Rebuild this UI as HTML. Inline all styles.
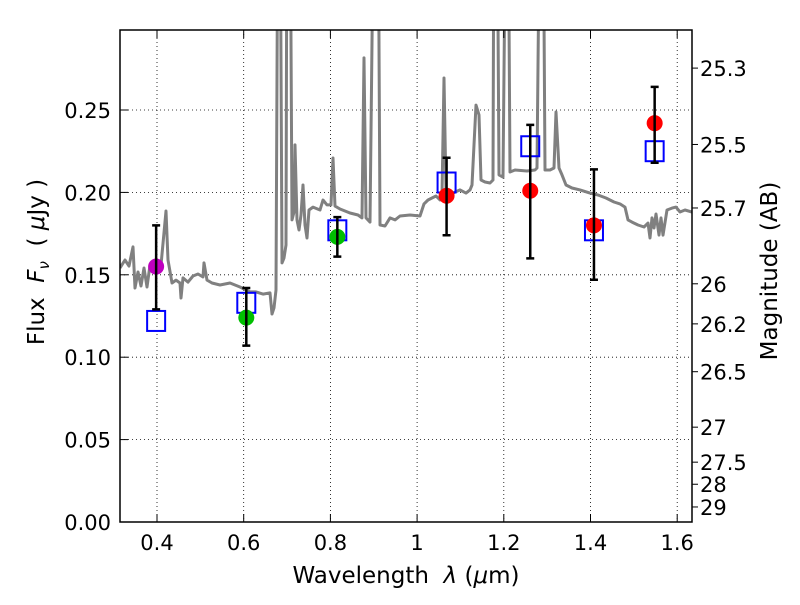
<!DOCTYPE html>
<html><head><meta charset="utf-8"><style>
html,body{margin:0;padding:0;background:#fff;}
svg text{font-family:"DejaVu Sans","Liberation Sans",sans-serif;fill:#000;white-space:pre;}
</style></head><body>
<svg id="chart" width="800" height="600" viewBox="0 0 800 600" xmlns="http://www.w3.org/2000/svg">
<rect width="800" height="600" fill="#fff"/>
<defs><clipPath id="plotclip"><rect x="120" y="30" width="572" height="492"/></clipPath></defs>
<g id="grid"></g>
<g id="spec" clip-path="url(#plotclip)"></g>
<g id="marks"></g>
<rect x="120" y="30" width="572" height="492" fill="none" stroke="#000" stroke-width="1.5"/>
<g id="axes"></g>
<text x="406" y="583" font-size="23" text-anchor="middle" xml:space="preserve">Wavelength  <tspan font-style="italic">λ</tspan> (<tspan font-style="italic">μ</tspan>m)</text>
<text transform="translate(44,262) rotate(-90)" font-size="23" text-anchor="middle" xml:space="preserve">Flux  <tspan font-style="italic">F</tspan><tspan font-style="italic" font-size="15" dy="5">ν</tspan><tspan dy="-5">  ( </tspan><tspan font-style="italic">μ</tspan>Jy )</text>
<text transform="translate(777,271) rotate(-90)" font-size="23" text-anchor="middle">Magnitude (AB)</text>
</svg>
<script>
const specLam=[0.3146,0.3262,0.3354,0.3446,0.3492,0.3562,0.3631,0.3700,0.3769,0.3839,0.3931,0.4,0.4092,0.4208,0.4254,0.4346,0.4438,0.4531,0.4554,0.4600,0.4715,0.4830,0.4946,0.5061,0.5084,0.5153,0.5269,0.5453,0.5684,0.5915,0.6145,0.6284,0.6445,0.6607,0.6653,0.6699,0.6745,0.6791,0.6837,0.6884,0.6930,0.6976,0.6999,0.7068,0.7114,0.7160,0.7183,0.7229,0.7276,0.7322,0.7368,0.7414,0.7460,0.7506,0.7599,0.7760,0.7829,0.7922,0.8014,0.8060,0.8106,0.8221,0.8452,0.8637,0.8729,0.8775,0.8821,0.8913,0.9006,0.9098,0.9144,0.9260,0.9375,0.9490,0.9606,0.9837,1.0067,1.0159,1.0252,1.0344,1.0436,1.0528,1.0574,1.0621,1.0667,1.0759,1.0874,1.0990,1.1128,1.1220,1.1266,1.1359,1.1428,1.1474,1.1566,1.1682,1.1751,1.1774,1.1843,1.1889,1.1982,1.2051,1.2097,1.2143,1.2258,1.2535,1.2720,1.2766,1.2835,1.2905,1.2951,1.3066,1.3159,1.3205,1.3274,1.3343,1.3435,1.3574,1.3758,1.3989,1.4173,1.4358,1.4542,1.4680,1.4796,1.4865,1.4957,1.5095,1.5234,1.5326,1.5372,1.5418,1.5464,1.5511,1.5580,1.5626,1.5672,1.5764,1.5880,1.5972,1.6064,1.6180,1.6341];
const specFlux=[0.1541,0.1590,0.1553,0.1669,0.1420,0.1517,0.1432,0.1541,0.1426,0.1559,0.1517,0.1541,0.1559,0.1887,0.1590,0.1450,0.1468,0.1450,0.1359,0.1481,0.1456,0.1493,0.1505,0.1487,0.1572,0.1468,0.1450,0.1438,0.1450,0.1426,0.1396,0.1396,0.1383,0.1390,0.1262,0.1299,0.1408,0.40,0.40,0.1572,0.1602,0.1681,0.40,0.40,0.1833,0.1881,0.2288,0.1833,0.1772,0.1863,0.2045,0.1802,0.1723,0.1893,0.1911,0.1893,0.1954,0.1924,0.1924,0.2209,0.1917,0.1899,0.1875,0.1863,0.1845,0.2816,0.1845,0.1820,0.40,0.40,0.1802,0.1796,0.1845,0.1833,0.1857,0.1863,0.1857,0.1930,0.1954,0.1966,0.1978,0.1954,0.1984,0.2694,0.2015,0.1984,0.2002,0.2015,0.1996,0.2015,0.2045,0.2530,0.2470,0.2075,0.2063,0.2057,0.2075,0.40,0.40,0.2106,0.2093,0.40,0.40,0.2124,0.2136,0.2130,0.2136,0.2148,0.40,0.40,0.2136,0.2136,0.2148,0.2488,0.2148,0.2106,0.2045,0.2027,0.2015,0.1996,0.1984,0.1966,0.1942,0.1930,0.1911,0.1833,0.1820,0.1802,0.1790,0.1814,0.1723,0.1845,0.1784,0.1869,0.1741,0.1845,0.1741,0.1893,0.1905,0.1911,0.1881,0.1893,0.1881];
const bandLam=[0.398,0.606,0.816,1.068,1.261,1.408,1.548];
const modelFlux=[0.122,0.133,0.177,0.206,0.228,0.177,0.225];
const obsFlux=[0.155,0.124,0.173,0.198,0.201,0.180,0.242];
const errLow=[0.129,0.107,0.161,0.174,0.160,0.147,0.218];
const errHigh=[0.180,0.142,0.185,0.221,0.241,0.214,0.264];
const obsColor=["#bf00bf","#00bf00","#00bf00","#ff0000","#ff0000","#ff0000","#ff0000"];
const xTicks=[0.4,0.6,0.8,1.0,1.2,1.4,1.6];
const xTickLabels=["0.4","0.6","0.8","1","1.2","1.4","1.6"];
const yTicks=[0,0.05,0.10,0.15,0.20,0.25];
const yTickLabels=["0.00","0.05","0.10","0.15","0.20","0.25"];
const magTicks=[25.3,25.5,25.7,26,26.2,26.5,27,27.5,28,29];
const magTickLabels=["25.3","25.5","25.7","26","26.2","26.5","27","27.5","28","29"];

const NS="http://www.w3.org/2000/svg";
const X=l=>157+(l-0.4)*433.5;
const Y=f=>522-f*1648;
function mk(tag,attrs,parent){const e=document.createElementNS(NS,tag);for(const k in attrs)e.setAttribute(k,attrs[k]);parent.appendChild(e);return e;}
const grid=document.getElementById('grid'),axes=document.getElementById('axes'),spec=document.getElementById('spec'),marks=document.getElementById('marks');

xTicks.forEach((t,i)=>{
  const x=X(t);
  const g=mk('line',{x1:x,x2:x,y1:30,y2:522,stroke:'#000','stroke-width':0.8,'stroke-dasharray':'1,3'},grid);
  
  
  const tk=mk('line',{x1:x,x2:x,y1:522,y2:514,stroke:'#000','stroke-width':1},axes);
  
  
  const tk2=mk('line',{x1:x,x2:x,y1:30,y2:38,stroke:'#000','stroke-width':1},axes);
  
  
  const tx=mk('text',{x:x,y:550,'font-size':21,'text-anchor':'middle'},axes);
  tx.textContent=xTickLabels[i];
  
  
});
yTicks.forEach((t,i)=>{
  const y=Y(t);
  if(t>0){
    const g=mk('line',{x1:120,x2:692,y1:y,y2:y,stroke:'#000','stroke-width':0.8,'stroke-dasharray':'1,3'},grid);
    
    
  }
  const tk=mk('line',{x1:120,x2:128,y1:y,y2:y,stroke:'#000','stroke-width':1},axes);
  
  
  const tx=mk('text',{x:111,y:y+8,'font-size':21,'text-anchor':'end'},axes);
  tx.textContent=yTickLabels[i];
  
  
});
magTicks.forEach((m,i)=>{
  const y=Y(Math.pow(10,(23.9-m)/2.5));
  const tk=mk('line',{x1:692,x2:698,y1:y,y2:y,stroke:'#000','stroke-width':1},axes);
  
  
  const tx=mk('text',{x:700,y:y+8,'font-size':21,'text-anchor':'start'},axes);
  tx.textContent=magTickLabels[i];
  
  
});

let d='';
specLam.forEach((l,i)=>{d+=(i?'L':'M')+X(l).toFixed(1)+','+Y(specFlux[i]).toFixed(1);});
const sp=mk('path',{d:d,fill:'none',stroke:'#808080','stroke-width':3,'stroke-linejoin':'round'},spec);



bandLam.forEach((l,i)=>{
  const x=X(l);
  const sq=mk('rect',{x:x-9,y:Y(modelFlux[i])-10,width:18,height:20,fill:'none',stroke:'#0000ff','stroke-width':2},marks);
  
  
});
bandLam.forEach((l,i)=>{
  const x=X(l);
  const c=mk('circle',{cx:x,cy:Y(obsFlux[i]),r:8,fill:obsColor[i]},marks);
  
  
  const yl=Y(errLow[i]),yh=Y(errHigh[i]);
  const e=mk('path',{d:`M${x},${yl}L${x},${yh}M${x-4},${yl}L${x+4},${yl}M${x-4},${yh}L${x+4},${yh}`,stroke:'#000','stroke-width':2.5,fill:'none'},marks);
  
  
});
</script>
</body></html>
